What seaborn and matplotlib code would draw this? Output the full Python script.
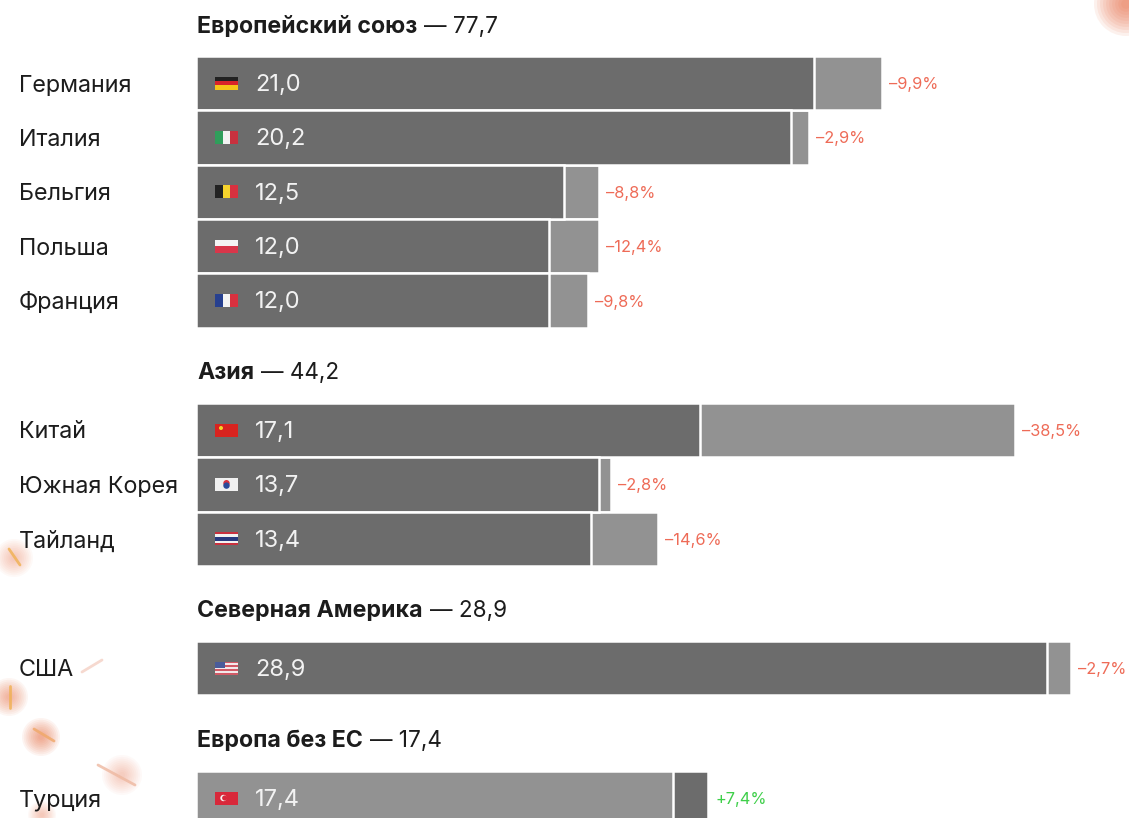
import numpy as np
import matplotlib
matplotlib.use("Agg")
import matplotlib.pyplot as plt
import seaborn as sns
from matplotlib.lines import Line2D
from matplotlib.patches import Rectangle, Circle
from matplotlib.transforms import IdentityTransform

# values: current year, previous year, change label
eu_names = ["Германия", "Италия", "Бельгия", "Польша", "Франция"]
eu_cur = [21.0, 20.2, 12.5, 12.0, 12.0]
eu_prev = [23.3, 20.8, 13.7, 13.7, 13.3]
eu_pct = ["–9,9%", "–2,9%", "–8,8%", "–12,4%", "–9,8%"]
eu_txt = ["21,0", "20,2", "12,5", "12,0", "12,0"]

asia_names = ["Китай", "Южная Корея", "Тайланд"]
asia_cur = [17.1, 13.7, 13.4]
asia_prev = [27.8, 14.1, 15.7]
asia_pct = ["–38,5%", "–2,8%", "–14,6%"]
asia_txt = ["17,1", "13,7", "13,4"]

na_names = ["США"]
na_cur = [28.9]
na_prev = [29.7]
na_pct = ["–2,7%"]
na_txt = ["28,9"]

other_names = ["Турция"]
other_cur = [17.4]
other_prev = [16.2]
other_pct = ["+7,4%"]
other_txt = ["17,4"]

W, H = 1129, 818
DARK = "#6c6c6c"
LIGHT = "#929292"
INK = "#1c1c1c"
RED = "#ee6b57"
GREEN = "#3fcf4a"
ROW = 54.4
PX_PER_UNIT = 29.45
LEFT = 196

# flags: (direction, stripe colours), extras are drawn on top
flags = {
    "Германия": ("h", ["#222222", "#d8232a", "#f5c518"]),
    "Италия": ("v", ["#2f9e5b", "#f2f2f2", "#c8313f"]),
    "Бельгия": ("v", ["#222222", "#f6d32d", "#d8313f"]),
    "Польша": ("h", ["#f4f4f4", "#d8364a"]),
    "Франция": ("v", ["#27408f", "#f4f4f4", "#d8313f"]),
    "Китай": ("h", ["#d8231f"]),
    "Южная Корея": ("h", ["#f0f0f0"]),
    "Тайланд": ("h", ["#c8313f", "#f2f2f2", "#27397f", "#27397f", "#f2f2f2", "#c8313f"]),
    "США": ("h", ["#d05a66", "#f2e9ea", "#d05a66", "#f2e9ea", "#d05a66", "#f2e9ea", "#d05a66"]),
    "Турция": ("h", ["#d8283a"]),
}

# soft decorative smudges in the reference: x, y, radius, opacity per layer
smudges = [(1126, 4, 32, 0.09), (14, 558, 19, 0.04), (9, 697, 19, 0.06), (41, 737, 19, 0.07),
           (122, 775, 20, 0.035), (42, 815, 14, 0.04)]
# thin streaks on top of them: x0, y0, x1, y1, colour
streaks = [(9, 549, 20, 565, "#f0b050"), (10, 686, 10, 708, "#f0b050"), (34, 729, 54, 741, "#f0a868"),
           (98, 765, 135, 785, "#eeb8a0"), (82, 672, 102, 660, "#f4d0c4")]

sns.set_theme(style="white")
plt.rcParams["font.family"] = ["Inter", "DejaVu Sans"]

fig = plt.figure(figsize=(W / 100, H / 100), dpi=100, facecolor="white")
renderer = fig.canvas.get_renderer()


def draw_flag(name, yc):
    x0, y0, w, h = 215, H - yc - 6.5, 23, 13
    kind, cols = flags[name]
    n = len(cols)
    for i, c in enumerate(cols):
        if kind == "h":
            r = Rectangle((x0, y0 + h - (i + 1) * h / n), w, h / n, fc=c, lw=0, transform=IdentityTransform(), zorder=5)
        else:
            r = Rectangle((x0 + i * w / n, y0), w / n, h, fc=c, lw=0, transform=IdentityTransform(), zorder=5)
        fig.add_artist(r)
    if name == "США":
        fig.add_artist(Rectangle((x0, y0 + h / 2), w * 0.42, h / 2, fc="#4a5c9a", lw=0, transform=IdentityTransform(), zorder=6))
    if name == "Китай":
        fig.add_artist(Circle((x0 + 6, y0 + h - 4.5), 2, fc="#f5d327", lw=0, transform=IdentityTransform(), zorder=6))
    if name == "Южная Корея":
        fig.add_artist(Circle((x0 + w / 2, y0 + h / 2 + 1.2), 3.2, fc="#d8313f", lw=0, transform=IdentityTransform(), zorder=6))
        fig.add_artist(Circle((x0 + w / 2, y0 + h / 2 - 1.2), 3.2, fc="#2a4a9a", lw=0, transform=IdentityTransform(), zorder=7))
    if name == "Турция":
        fig.add_artist(Circle((x0 + 8.5, y0 + h / 2), 3.2, fc="#f4f4f4", lw=0, transform=IdentityTransform(), zorder=6))
        fig.add_artist(Circle((x0 + 9.7, y0 + h / 2), 2.6, fc="#d8283a", lw=0, transform=IdentityTransform(), zorder=7))


def draw_group(title, total, names, cur, prev, pct, txt, first_center, title_y, pct_col=RED):
    n = len(names)
    top = first_center - ROW / 2
    ax = fig.add_axes([LEFT / W, 1 - (top + n * ROW) / H, (W - LEFT) / W, n * ROW / H])
    ax.patch.set_alpha(0)

    # the longer bar goes underneath, white edges make the separators
    growing = cur[0] > prev[0]
    outer, inner = (cur, prev) if growing else (prev, cur)
    outer_col, inner_col = (DARK, LIGHT) if growing else (LIGHT, DARK)
    sns.barplot(x=outer, y=names, orient="h", color=outer_col, saturation=1, width=1,
                edgecolor="white", linewidth=1.8, ax=ax)
    sns.barplot(x=inner, y=names, orient="h", color=inner_col, saturation=1, width=1,
                edgecolor="white", linewidth=1.8, ax=ax)

    ax.set_xlim(0, (W - LEFT) / PX_PER_UNIT)
    ax.set_ylim(n - 0.5, -0.5)
    ax.set_xlabel("")
    ax.set_ylabel("")
    ax.set_xticks([])
    sns.despine(ax=ax, left=True, bottom=True)
    ax.tick_params(axis="y", length=0, pad=(LEFT - 19) * 0.72)
    for lab in ax.get_yticklabels():
        lab.set_ha("left")
        lab.set_fontsize(16.8)
        lab.set_color(INK)

    for i in range(n):
        ax.annotate(txt[i], (0, i), xytext=((255 - LEFT) * 0.72, 0.5), textcoords="offset points",
                    va="center_baseline", ha="left", color="#f2f2f2", fontsize=17)
        ax.annotate(pct[i], (outer[i], i), xytext=(5, 0), textcoords="offset points",
                    va="center_baseline", ha="left", color=pct_col, fontsize=11.8)
        draw_flag(names[i], first_center + i * ROW)

    # heading: bold name then regular total on one baseline
    base = H - title_y - 8
    t1 = fig.text(197 / W, base / H, title, fontsize=16.7, fontweight="bold", color=INK, va="baseline")
    width = t1.get_window_extent(renderer).width
    fig.text((197 + width + 7) / W, base / H, "— " + total, fontsize=16.2, color=INK, va="baseline")
    return ax


draw_group("Европейский союз", "77,7", eu_names, eu_cur, eu_prev, eu_pct, eu_txt, 83, 25)
draw_group("Азия", "44,2", asia_names, asia_cur, asia_prev, asia_pct, asia_txt, 430, 371)
draw_group("Северная Америка", "28,9", na_names, na_cur, na_prev, na_pct, na_txt, 668, 609)
draw_group("Европа без ЕС", "17,4", other_names, other_cur, other_prev, other_pct, other_txt, 798, 739, GREEN)

# smudges as stacked faint circles
for x, y, r, a in smudges:
    for f in np.linspace(1, 0.15, 10):
        fig.add_artist(Circle((x, H - y), r * f, fc="#e8673c", alpha=a, lw=0,
                              transform=IdentityTransform(), zorder=-1))
for x0, y0, x1, y1, c in streaks:
    fig.add_artist(Line2D([x0, x1], [H - y0, H - y1], color=c, lw=2, alpha=0.8,
                          transform=IdentityTransform(), zorder=-1))

fig.savefig("out.png", dpi=100)
